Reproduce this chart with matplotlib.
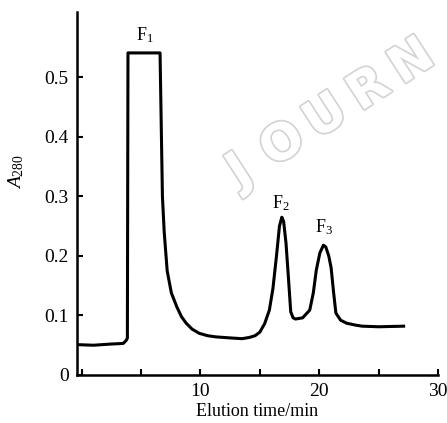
import numpy as np
import matplotlib.pyplot as plt
import matplotlib.patheffects as pe

plt.rcParams['font.family'] = ['Liberation Serif', 'DejaVu Serif']
plt.rcParams['mathtext.fontset'] = 'custom'
plt.rcParams['mathtext.rm'] = 'Liberation Serif'
plt.rcParams['mathtext.it'] = 'Liberation Serif:italic'

# elution profile
time = [-0.4, 1.0, 2.5, 3.5, 3.75, 3.85, 3.9, 6.6, 6.7, 6.8, 6.95, 7.2, 7.55, 8.0,
        8.4, 8.8, 9.3, 9.9, 10.6, 11.3, 12.7, 13.5, 14.1, 14.6, 15.0, 15.4,
        15.8, 16.1, 16.4, 16.65, 16.85, 17.0, 17.2, 17.4, 17.6, 17.8, 18.0,
        18.6, 19.2, 19.5, 19.75, 20.05, 20.35, 20.55, 20.8, 21.0, 21.2, 21.4,
        21.8, 22.3, 23.0, 23.6, 25.0, 27.1]
a280 = [0.051, 0.050, 0.052, 0.053, 0.058, 0.062, 0.541, 0.541, 0.42, 0.30,
        0.24, 0.175, 0.138, 0.115, 0.098, 0.087, 0.077, 0.070, 0.066, 0.064,
        0.062, 0.061, 0.063, 0.066, 0.072, 0.086, 0.109, 0.145, 0.200, 0.250,
        0.265, 0.258, 0.222, 0.165, 0.106, 0.096, 0.094, 0.096, 0.109, 0.138,
        0.176, 0.205, 0.218, 0.215, 0.200, 0.180, 0.140, 0.104, 0.092, 0.087,
        0.084, 0.082, 0.081, 0.082]

peaks = ['F$_1$', 'F$_2$', 'F$_3$']
peak_x = [5.3, 16.8, 20.4]
peak_y = [0.555, 0.272, 0.232]

fig = plt.figure(figsize=(4.47, 4.23), dpi=100)
ax = fig.add_axes([0.172, 0.1135, 0.808, 0.8585])

ax.plot(time, a280, color='black', lw=2.2, solid_joinstyle='round')

for lab, px, py in zip(peaks, peak_x, peak_y):
    ax.text(px, py, lab, ha='center', va='bottom', fontsize=13)

# faint watermark, one letter at a time along a slanted line (pixel centres)
for i, ch in enumerate('JOURN'):
    cx, cy = 240 + 43 * i, 172 - 27.5 * i
    fig.text(cx / 447, 1 - cy / 423, ch, fontsize=36, fontweight='bold',
             family='DejaVu Sans', rotation=33, color='white',
             ha='center', va='center', zorder=0,
             path_effects=[pe.withStroke(linewidth=2.5, foreground='#d4d4d4')])

ax.set_xlim(-0.4, 30)
ax.set_ylim(0, 0.61)
ax.set_xticks([0, 5, 10, 15, 20, 25, 30])
ax.set_xticklabels(['', '', '10', '', '20', '', '30'])
ax.set_yticks([0, 0.1, 0.2, 0.3, 0.4, 0.5])
ax.set_yticklabels(['0', '0.1', '0.2', '0.3', '0.4', '0.5'])
ax.tick_params(direction='in', length=4, width=1.5, labelsize=14, pad=6)
ax.spines['top'].set_visible(False)
ax.spines['right'].set_visible(False)
ax.spines['left'].set_linewidth(1.8)
ax.spines['bottom'].set_linewidth(1.8)
ax.set_xlabel('Elution time/min', fontsize=13, labelpad=2)
ax.set_ylabel('$\\mathit{A}_{280}$', fontsize=14)
ax.yaxis.set_label_coords(-0.14, 0.56)
ax.patch.set_alpha(0)

fig.savefig('out.png', dpi=100)
